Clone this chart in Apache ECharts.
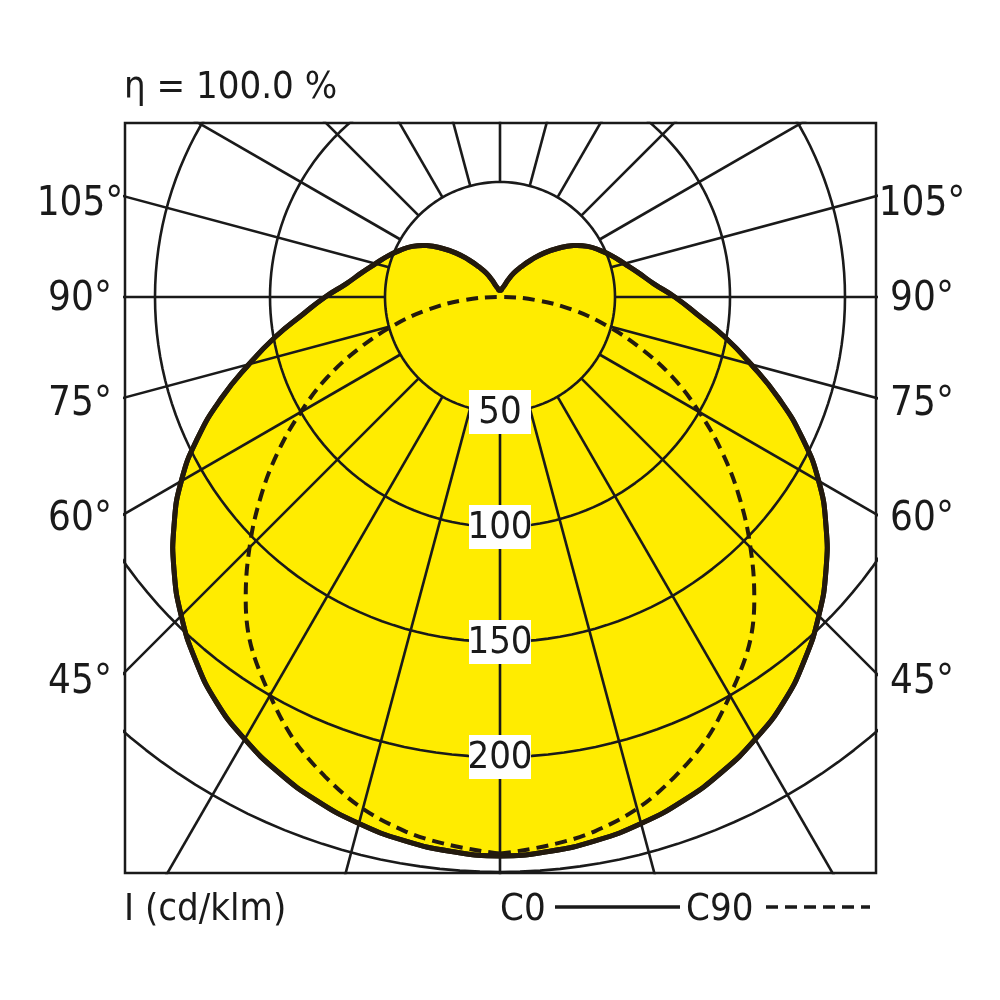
<!DOCTYPE html>
<html><head><meta charset="utf-8">
<script src="https://cdn.jsdelivr.net/npm/echarts@6/dist/echarts.min.js"></script>
<style>html,body{margin:0;padding:0;background:#fff}#c{width:1000px;height:1000px}</style>
</head><body><div id="c"></div>
<script>
const gammaC0 = [0,5,10,15,20,25,30,35,40,45,50,55,60,65,70,75,80,85,90,95,100,105,110,115,120,125,130,135,140,145,150,155,160,165,170,175,180];
const valuesC0 = [243,242,240,237,233,228,222,215,206,196,185,173,160,145,129,113,99,86,76,67,61,56,52,48,44,39,33,27,21,16,12,8,5,4,3,3,3];
const gammaC90 = [0,10,20,30,40,45,50,55,60,65,70,75,80,85,90];
const valuesC90 = [242,236,222,200,172,154,136,118,100,83,65,48,32,16,0];
const circleValues = [50,100,150,200,250];
const circleLabels = ['50','100','150','200'];
const angleLabels = ['45°','60°','75°','90°','105°'];
const angleLabelY = [683,520,405,300,205];

const FONT = '"Liberation Sans Narrow","DejaVu Sans Condensed","Liberation Sans",sans-serif';
const rad = d => d*Math.PI/180;
function pt(g, r, side){ return [side*r*Math.sin(rad(g)), -r*Math.cos(rad(g))]; }

function closedCurve(gs, vs){
  const out=[];
  for(let i=0;i<gs.length;i++) out.push(pt(gs[i],vs[i],-1));
  for(let i=gs.length-2;i>=1;i--) out.push(pt(gs[i],vs[i],1));
  return out;
}
const c0 = closedCurve(gammaC0, valuesC0);
const c90 = closedCurve(gammaC90, valuesC90); c90.push(c90[0]);

const series = [];
series.push({type:'custom', renderItem:(params, api)=>{
  if(params.dataIndex!==0) return null;
  const pts = c0.map(p=>api.coord(p));
  return {type:'polygon', shape:{points:pts, smooth:0.5}, style:{fill:'#ffec00', stroke:'#231a0e', lineWidth:5, lineJoin:'round'}};
}, data:[[0,0]], clip:true, z:1, silent:true});

circleValues.forEach(r=>{
  const d=[]; for(let a=0;a<=360;a+=2) d.push(pt(a,r,1));
  series.push({type:'line', data:d, showSymbol:false, lineStyle:{color:'#1a1a1a',width:2.6}, z:2, silent:true, clip:true});
});
for(let a=0;a<360;a+=15){
  series.push({type:'line', data:[pt(a,50,1), pt(a,400,1)], showSymbol:false, lineStyle:{color:'#1a1a1a',width:2.6}, z:2, silent:true, clip:true});
}
series.push({type:'custom', renderItem:(params, api)=>{
  if(params.dataIndex!==0) return null;
  const pts = c0.map(p=>api.coord(p));
  return {type:'polygon', shape:{points:pts, smooth:0.5}, style:{fill:null, stroke:'#231a0e', lineWidth:5, lineJoin:'round'}};
}, data:[[0,0]], clip:true, z:4, silent:true});
series.push({type:'line', data:c90, showSymbol:false, smooth:0.4, lineStyle:{color:'#231a0e',width:4,type:[12,7]}, z:5, silent:true});

const graphics = [];
const circleY = [412,527,642,757];
circleLabels.forEach((t,i)=>{
  graphics.push({type:'rect', shape:{x:469,y:circleY[i]-22,width:62,height:44}, style:{fill:'#fff'}, z:10});
  graphics.push({type:'text', x:500, y:circleY[i]+1, style:{text:t, font:'38px '+FONT, fill:'#1a1a1a', align:'center', verticalAlign:'middle'}, z:11});
});
angleLabels.forEach((t,i)=>{
  graphics.push({type:'text', x:80, y:angleLabelY[i], style:{text:t, font:'40px '+FONT, fill:'#1a1a1a', align:'center', verticalAlign:'middle'}, z:11});
  graphics.push({type:'text', x:922, y:angleLabelY[i], style:{text:t, font:'40px '+FONT, fill:'#1a1a1a', align:'center', verticalAlign:'middle'}, z:11});
});
graphics.push({type:'text', x:124, y:88, style:{text:'η = 100.0 %', font:'38px '+FONT, fill:'#1a1a1a', verticalAlign:'middle'}});
graphics.push({type:'text', x:124, y:910, style:{text:'I (cd/klm)', font:'38px '+FONT, fill:'#1a1a1a', verticalAlign:'middle'}});
graphics.push({type:'text', x:500, y:910, style:{text:'C0', font:'38px '+FONT, fill:'#1a1a1a', verticalAlign:'middle'}});
graphics.push({type:'line', shape:{x1:555,y1:907,x2:680,y2:907}, style:{stroke:'#1a1a1a',lineWidth:3.5}});
graphics.push({type:'text', x:686, y:910, style:{text:'C90', font:'38px '+FONT, fill:'#1a1a1a', verticalAlign:'middle'}});
graphics.push({type:'line', shape:{x1:766,y1:907,x2:870,y2:907}, style:{stroke:'#1a1a1a',lineWidth:3.5,lineDash:[12,7]}});

const chart = echarts.init(document.getElementById('c'));
chart.setOption({
  animation:false,
  grid:{left:125,right:124,top:123,bottom:127,show:true,borderColor:'#1a1a1a',borderWidth:2.5,backgroundColor:'transparent'},
  xAxis:{type:'value',min:(125-500)/2.3,max:(876-500)/2.3,show:false},
  yAxis:{type:'value',min:-(873-297)/2.3,max:(297-123)/2.3,show:false},
  series:series,
  graphic:graphics
});
</script></body></html>
